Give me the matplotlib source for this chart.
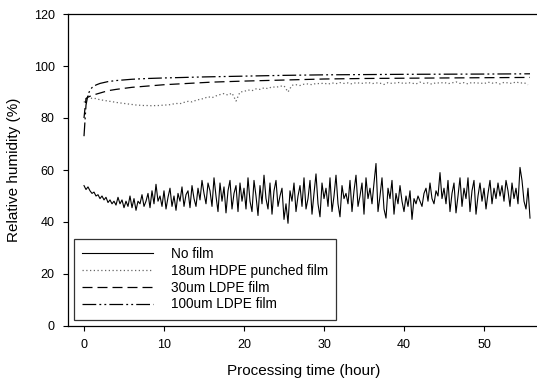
import numpy as np
import matplotlib.pyplot as plt

plt.rcParams['font.family'] = ['Liberation Sans', 'DejaVu Sans']

# No film: sampled every 0.25 h
t_nofilm = np.arange(0, 56, 0.25)
rh_nofilm = [
    54, 52.5, 53.5, 52, 51, 51.5, 50, 50.5, 49, 50, 48.5, 49.5, 47.5, 48.5, 47, 48,
    46.5, 49.5, 47, 48.5, 45.5, 48, 46, 50, 45.5, 49, 44.5, 48, 47, 50.5, 46, 48,
    51, 45.5, 52, 47, 54.5, 48, 50, 46, 52, 45, 49.5, 53, 46, 50, 44.5, 51,
    48, 53.5, 46, 50.5, 52, 45.5, 54, 49, 46, 53, 48.5, 56, 51, 47, 55, 52,
    46, 57, 50, 44, 55, 48, 53.5, 43.5, 52, 56, 45, 51, 54, 44, 55, 48,
    53, 45, 57, 48, 44, 56, 50, 42.5, 54, 47, 58, 49, 45, 55, 43, 52,
    56, 46, 50, 53, 41, 47, 39.5, 52, 48, 55, 44, 50, 54, 46, 57, 45,
    49, 56, 43, 51, 58.5, 47, 42, 55, 49, 53, 46, 57, 44, 50, 58, 47,
    42, 54, 49, 51, 47, 56, 44, 52, 58, 46, 50, 55, 43, 57, 49, 53,
    47, 55, 62.5, 44, 50, 57, 45, 41.5, 53, 49, 56, 43, 51, 47, 54, 48,
    44, 50, 46, 52, 41, 49, 47, 50, 48, 46, 51, 53, 48, 55, 49, 47,
    52, 50, 59, 49, 53, 47, 56, 44, 51, 55, 43.5, 50, 57, 46, 53, 49,
    57, 44, 52, 56, 43, 50, 55, 48, 53, 45, 51, 56, 47, 53, 49, 55,
    50, 54, 48, 56, 52, 46, 55, 49, 53, 47, 61, 56, 48, 45, 53, 41.5,
]

# 18um HDPE punched film: every 0.5 h
t_hdpe = np.arange(0, 56, 0.5)
rh_hdpe = [
    86, 88.5, 87.5, 87.5, 87, 86.8, 86.5, 86.3, 86, 85.8,
    85.6, 85.4, 85.2, 85, 84.9, 84.8, 84.8, 84.7, 84.8, 84.8,
    85, 85, 85.3, 85.6, 85.5, 86, 86.4, 86.2, 86.8, 87.2,
    87.5, 88.2, 87.8, 88.5, 89, 89.4, 88.8, 89.6, 86.5, 90,
    90.2, 90.8, 90.5, 91.2, 91, 91.6, 91.3, 92, 91.8, 92.2,
    92.4, 90, 92.6, 92.8, 92.5, 93, 93.1, 92.8, 93.3, 93.2,
    93.4, 93, 93.5, 93.2, 93.6, 93.3, 93.5, 93.1, 93.6, 93.4,
    93.3, 93.7, 93.2, 93.5, 93.4, 92.9, 93.6, 93.3, 93.5, 93.7,
    93.2, 93.6, 93.4, 93.1, 93.8, 93.3, 93.5, 93, 93.6, 93.4,
    93.7, 93.2, 93.5, 93.9, 93.3, 93.6, 93.1, 93.7, 93.4, 93.5,
    93.2, 93.8, 93.4, 93.6, 93.1, 93.7, 93.5, 93.3, 93.9, 93.4, 93.6, 92.8,
]

# 30um LDPE film
t_ldpe30 = [0, 0.25, 0.5, 1, 2, 3, 4, 6, 8, 10, 13, 16, 20, 25, 30, 35, 40, 45, 50, 55.75]
rh_ldpe30 = [80, 87.5, 88, 88.7, 89.6, 90.5, 91, 91.8, 92.3, 92.8, 93.3, 93.8, 94.2,
             94.6, 95, 95.2, 95.3, 95.4, 95.5, 95.6]

# 100um LDPE film
t_ldpe100 = [0, 0.25, 0.5, 0.75, 1, 1.5, 2, 3, 4, 6, 8, 10, 15, 20, 25, 30, 40, 50, 55.75]
rh_ldpe100 = [73, 85, 89, 90.7, 91.7, 92.7, 93.3, 94, 94.4, 94.9, 95.2, 95.4, 95.8,
              96.1, 96.4, 96.6, 96.8, 96.9, 97]

fig = plt.figure(figsize=(5.37, 3.79), dpi=100)
ax = fig.add_axes([68/537, 53/379, 472/537, 312/379])

ax.plot(t_nofilm, rh_nofilm, color='black', lw=0.8, label='No film')
ax.plot(t_hdpe, rh_hdpe, color='#666666', lw=0.9, linestyle=(0, (1, 2)),
        label='18um HDPE punched film')
ax.plot(t_ldpe30, rh_ldpe30, color='black', lw=0.9, linestyle=(0, (8, 4)),
        label='30um LDPE film')
ax.plot(t_ldpe100, rh_ldpe100, color='black', lw=0.9,
        linestyle=(0, (11, 2.5, 1.5, 2.5, 1.5, 2.5)), label='100um LDPE film')

ax.set_xlim(-2, 57)
ax.set_ylim(0, 120)
ax.set_xticks([0, 10, 20, 30, 40, 50])
ax.set_yticks([0, 20, 40, 60, 80, 100, 120])
ax.tick_params(direction='out', length=3.5, width=0.8, labelsize=9, pad=6)
ax.spines['right'].set_visible(False)
for s in ['left', 'bottom', 'top']:
    ax.spines[s].set_linewidth(0.9)

ax.set_xlabel('Processing time (hour)', fontsize=11, labelpad=9)
ax.set_ylabel('Relative humidity (%)', fontsize=11, labelpad=9)

leg = ax.legend(loc='upper left', bbox_to_anchor=(74/537, 1 - 239/379),
                bbox_transform=fig.transFigure, fontsize=9.8, frameon=True,
                fancybox=False, edgecolor='black', handlelength=5.2,
                handletextpad=1.3, labelspacing=0.2, borderpad=0.6,
                borderaxespad=0)
leg.get_frame().set_linewidth(0.9)

fig.savefig('out.png', dpi=100)
